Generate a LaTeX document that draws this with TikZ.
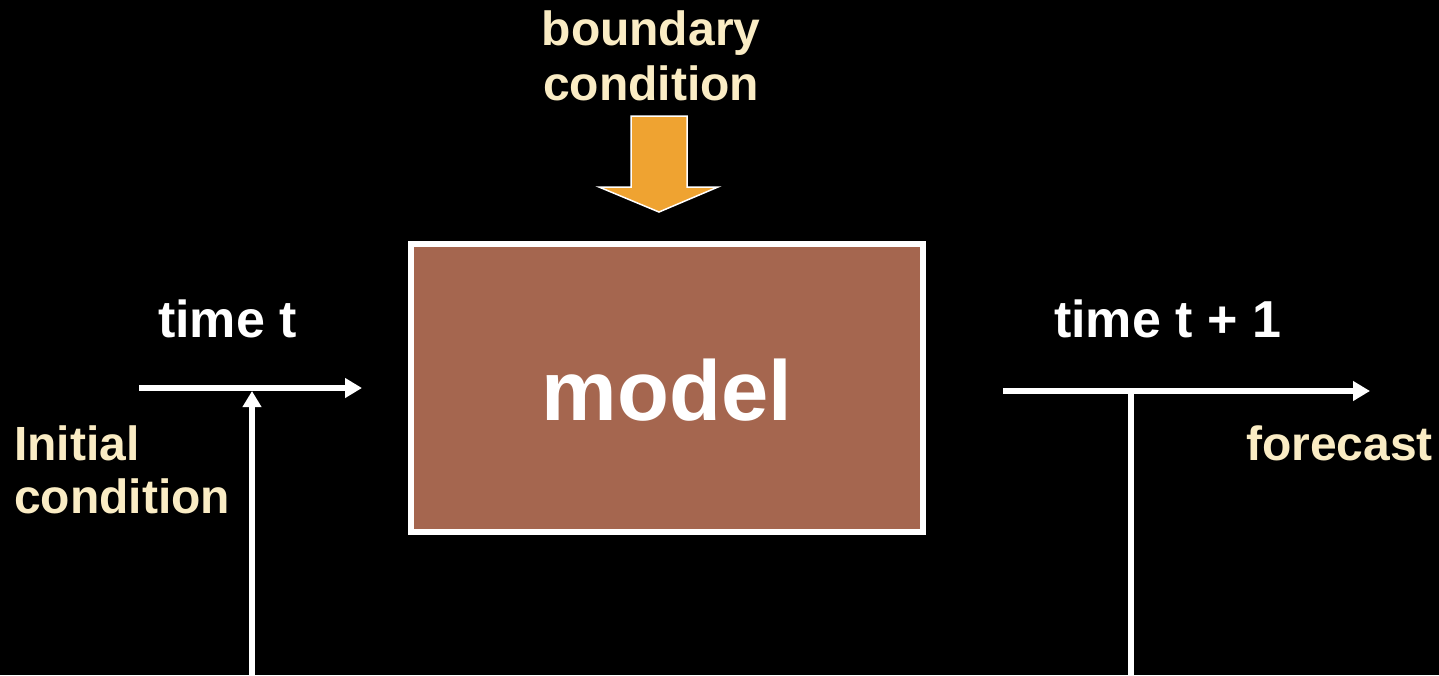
\documentclass[tikz,border=0pt]{standalone}
\usepackage{fontspec}
\setmainfont{Liberation Sans}
\usetikzlibrary{arrows.meta}
\definecolor{cream}{RGB}{250,236,196}
\definecolor{modelbrown}{RGB}{165,102,79}
\definecolor{bcorange}{RGB}{239,163,49}
\begin{document}
\begin{tikzpicture}[x=1pt,y=-1pt,
  txt/.style={inner sep=0pt,font=\bfseries\fontsize{48}{55}\selectfont},
  creamtxt/.style={txt,text=cream},
  whitetxt/.style={txt,text=white,font=\bfseries\fontsize{52}{56}\selectfont},
  flow/.style={draw=white,line width=6pt},
  flowarrow/.style={flow,-{Triangle[length=17pt,width=19pt]}}]
\fill[black] (0,0) rectangle (1439,675);
\useasboundingbox (0,0) rectangle (1439,675);
% model box
\node[draw=white,line width=6pt,fill=modelbrown,minimum width=512pt,minimum height=288pt,inner sep=0pt] (model) at (667,388) {};
\node[inner sep=0pt,anchor=base,text=white,font=\bfseries\fontsize{85}{90}\selectfont] (modeltxt) at (667,420) {model};
% texts
\node[creamtxt,anchor=base,align=center] (bc) at (651,100) {boundary\\condition};
\node[creamtxt,anchor=base west,align=left,font=\bfseries\fontsize{48}{53}\selectfont] (ic) at (14,513) {Initial\\condition};
\node[creamtxt,anchor=base west] (fc) at (1246,460) {forecast};
\node[whitetxt,anchor=base west] (tt) at (158,337) {time t};
\node[whitetxt,anchor=base west] (tt1) at (1054,337) {time t + 1};
% coordinates
\coordinate (lstart) at (139,388);
\coordinate (lend) at (362,388);
\coordinate (ljoin) at (252,391);
\coordinate (lbot) at (252,675);
\coordinate (rstart) at (1003,391);
\coordinate (rend) at (1370,391);
\coordinate (rjoin) at (1131,391);
\coordinate (rbot) at (1131,675);
% connectors
\draw[flowarrow] (lstart) -- (lend);
\draw[draw=white,line width=6pt,-{Triangle[length=16pt,width=18pt]}] (lbot) -- (ljoin);
\draw[flowarrow] (rstart) -- (rend);
\draw[flow] (rjoin) -- (rbot);
% boundary condition arrow
\coordinate (bctip) at (659,212);
\draw[draw=white,line width=1.5pt,fill=bcorange,line join=miter]
  (631,116) -- (687,116) -- (687,187) -- (718,187) -- (bctip) -- (599,187) -- (631,187) -- cycle;
\end{tikzpicture}
\end{document}
